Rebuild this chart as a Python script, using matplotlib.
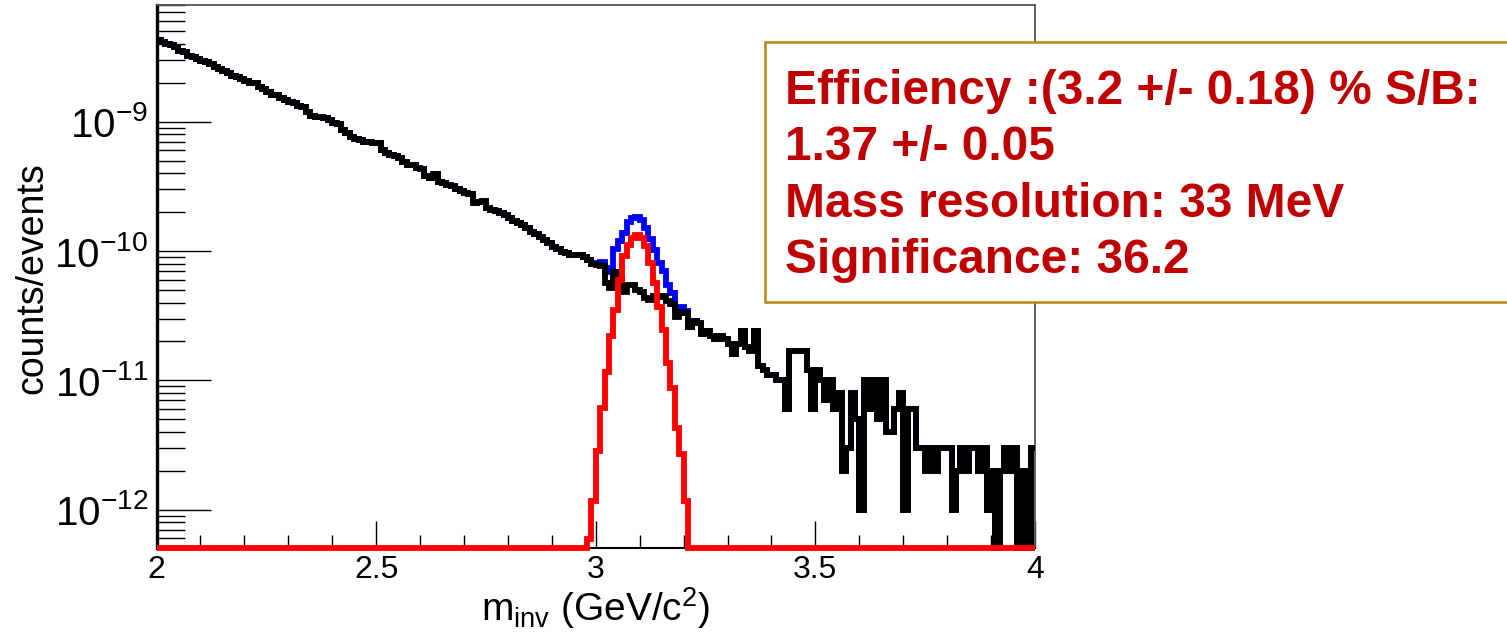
import numpy as np
import matplotlib
matplotlib.use("Agg")
import matplotlib.pyplot as plt
from matplotlib.patches import Rectangle
from matplotlib.ticker import LogLocator, MultipleLocator, LogFormatterMathtext, NullFormatter

plt.rcParams['font.family'] = ['Liberation Sans', 'DejaVu Sans']
plt.rcParams['mathtext.fontset'] = 'custom'
plt.rcParams['mathtext.rm'] = 'Liberation Sans'
plt.rcParams['mathtext.it'] = 'Liberation Sans:italic'
plt.rcParams['mathtext.bf'] = 'Liberation Sans:bold'

# invariant mass bins, 2..4 GeV/c^2 in 10 MeV steps
edges = np.linspace(2.0, 4.0, 201)

# background (black), in units of 1e-12 counts/events
bkg = [
    4300, 4150, 4000, 3900, 3800, 3550, 3450, 3200, 3150, 3050,
    2950, 2900, 2800, 2650, 2550, 2450, 2400, 2250, 2200, 2150,
    2050, 2000, 1980, 1850, 1800, 1700, 1620, 1600, 1520, 1470,
    1430, 1400, 1330, 1290, 1200, 1100, 1080, 1090, 1060, 1040,
    970, 960, 860, 820, 760, 740, 720, 700, 700, 690,
    680, 600, 570, 550, 540, 520, 490, 460, 460, 440,
    430, 380, 370, 395, 345, 335, 325, 320, 300, 290,
    280, 275, 235, 240, 242, 215, 208, 205, 196, 190,
    180, 172, 165, 160, 150, 140, 135, 128, 122, 115,
    108, 104, 98, 96, 94, 93, 93, 90, 85, 80,
    78, 76, 57, 52, 69, 60, 48, 55, 55, 50,
    48, 43, 42, 45, 44, 45, 41, 39, 31, 34,
    33, 26, 29, 28, 23, 24, 22, 21, 22, 21,
    19, 16, 19, 24, 18, 17, 24, 13, 12, 11,
    11, 10, 10, 6, 17, 17, 17, 17, 12, 6,
    12, 10, 7, 10, 6, 8, 2, 3, 8, 5,
    1, 10, 6, 10, 5, 10, 4, 4, 6, 8,
    1, 6, 6, 3, 3, 2, 3, 2, 3, 3,
    3, 1, 2, 3, 2, 3, 3, 2, 3, 1,
    2, 0, 2, 3, 2, 3, 0, 2, 0, 3,
]

# J/psi signal (red), bins 2.98 .. 3.20, same units
sig_first_bin = 2.98
sig_peak = [0.59, 1.16, 2.83, 6.1, 11.7, 21.9, 35, 60, 91, 112, 126, 134,
            126, 109, 81, 57, 37, 24.7, 13.6, 8.7, 4.3, 2.7, 1.16]

box_lines = [
    "Efficiency :(3.2 +/- 0.18) % S/B:",
    "1.37 +/- 0.05",
    "Mass resolution: 33 MeV",
    "Significance: 36.2",
]

unit = 1e-12
bkg = np.array(bkg, dtype=float) * unit
sig = np.zeros(len(bkg))
i0 = int(round((sig_first_bin - 2.0) / 0.01))
sig[i0:i0 + len(sig_peak)] = np.array(sig_peak) * unit
total = bkg + sig

ymin, ymax = 5.05e-13, 8.0e-9

fig = plt.figure(figsize=(15.07, 6.37), dpi=100)
ax = fig.add_axes([0.10385, 0.13972, 0.58295, 0.85243])

lw = 4.2
ax.stairs(np.clip(total, ymin, None), edges, baseline=None, color='#0000ff', lw=lw,
          clip_on=False, zorder=2)
ax.stairs(np.clip(bkg, ymin, None), edges, baseline=None, color='black', lw=lw,
          clip_on=False, zorder=3)
ax.stairs(np.clip(sig, ymin, None), edges, baseline=None, color='#ff0000', lw=lw,
          clip_on=False, zorder=4)

ax.set_yscale('log')
ax.set_xlim(2.0, 4.0)
ax.set_ylim(ymin, ymax)

ax.xaxis.set_major_locator(MultipleLocator(0.5))
ax.xaxis.set_minor_locator(MultipleLocator(0.1))
ax.xaxis.set_major_formatter(plt.FuncFormatter(lambda v, p: f"{v:g}"))
ax.yaxis.set_major_locator(LogLocator(base=10))
ax.yaxis.set_minor_locator(LogLocator(base=10, subs=np.arange(2, 10)))
ax.yaxis.set_major_formatter(LogFormatterMathtext())
ax.yaxis.set_minor_formatter(NullFormatter())

ax.tick_params(axis='x', which='major', direction='in', length=19.5, width=1.0,
               labelsize=23, pad=5, top=False)
ax.tick_params(axis='x', which='minor', direction='in', length=9.5, width=1.0, top=False)
ax.tick_params(axis='y', which='major', direction='in', length=39, width=1.0,
               labelsize=29, pad=6, right=False)
ax.tick_params(axis='y', which='minor', direction='in', length=20, width=1.0, right=False)

ax.spines['left'].set_linewidth(2.4)
ax.spines['bottom'].set_linewidth(1.5)
for s in ('top', 'right'):
    ax.spines[s].set_color('#555555')
    ax.spines[s].set_linewidth(1.3)

fig.text(32 / 1507, 1 - 278 / 637, "counts/events", rotation=90, fontsize=27,
         ha='center', va='center')
fig.text(596 / 1507, 1 - 621 / 637, r"m$_{\mathdefault{inv}}$ (GeV/c$^{\mathdefault{2}}$)",
         fontsize=28, ha='center', va='baseline')

box = Rectangle((765 / 1507, 1 - 302 / 637), (1520 - 765) / 1507, 260 / 637,
                transform=fig.transFigure, facecolor='white', edgecolor='#b8860b',
                lw=1.8, zorder=5)
fig.add_artist(box)
baselines = [104, 160, 217, 273]
for txt, yb in zip(box_lines, baselines):
    t = fig.text(785 / 1507, 1 - yb / 637, txt, fontsize=34.5, fontweight='bold',
                 color='#c00000', ha='left', va='baseline')
    t.set_zorder(6)

fig.savefig('out.png', dpi=100)
